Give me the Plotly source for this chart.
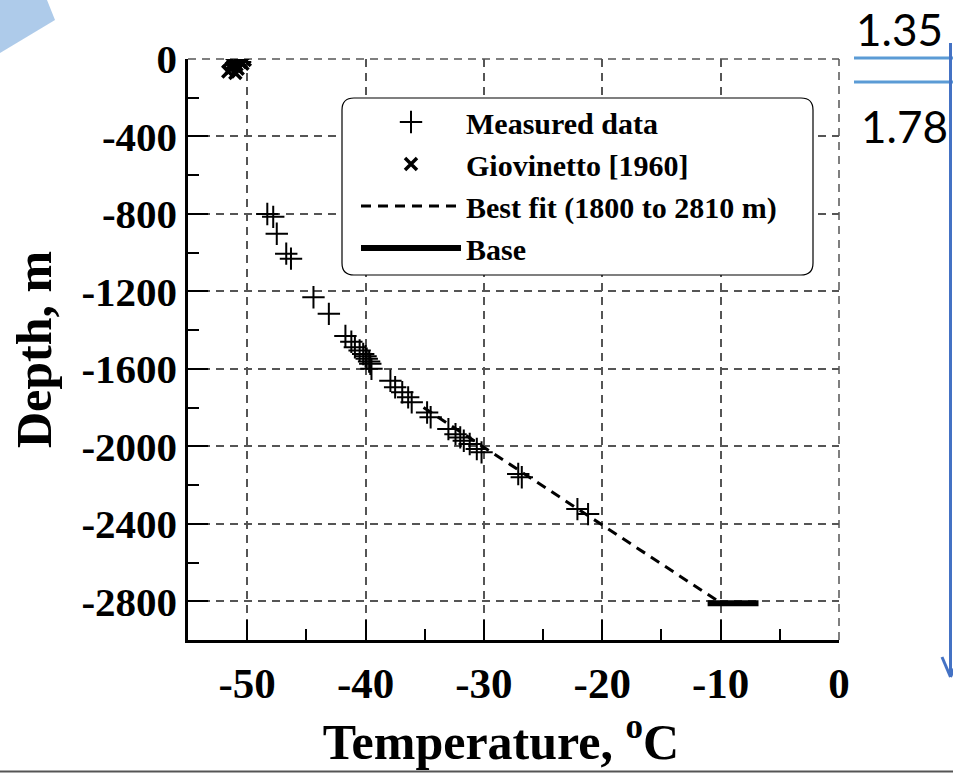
import plotly.graph_objects as go

# ---------------- data ----------------
measured_temp = [-48.3, -47.8, -47.5, -46.7, -46.3, -44.4, -43.1, -41.7, -41.2, -40.9, -40.5,
                 -40.2, -40.0, -39.9, -39.7, -39.6, -39.5, -37.9, -37.5, -36.9, -36.4, -36.1,
                 -34.8, -34.5, -33.0, -32.4, -32.0, -31.7, -31.2, -30.6, -30.2, -27.1, -26.8,
                 -22.1, -21.2, -51.0, -50.6]
measured_depth = [-800, -815, -902, -1005, -1031, -1230, -1316, -1430, -1460, -1488, -1505,
                  -1523, -1535, -1548, -1562, -1574, -1600, -1661, -1695, -1721, -1747, -1773,
                  -1825, -1850, -1911, -1937, -1954, -1971, -1988, -2014, -2031, -2143, -2160,
                  -2324, -2350, -30, -15]

giov_temp = [-51.5, -51.2, -50.9, -50.6, -51.3, -50.8, -51.6, -50.4, -51.0, -50.2]
giov_depth = [-10, -20, -30, -15, -45, -50, -65, -25, -72, -5]

fit_temp = [-35.1, -10.2]
fit_depth = [-1800, -2800]

base_temp = [-11.1, -6.8]
base_depth = [-2810, -2810]

x_ticks = [-50, -40, -30, -20, -10, 0]
y_ticks = [0, -400, -800, -1200, -1600, -2000, -2400, -2800]

# ---------------- geometry helpers ----------------
W, H = 953, 773
L, R, T, B = 188, 114, 59, 133
PW, PH = W - L - R, H - T - B


def px(x):
    return (x - L) / PW


def py(y):
    return 1 - (y - T) / PH


SERIF = "Liberation Serif"
GRID = "#555555"
GRIDDASH = "8px,6px"

fig = go.Figure()

fig.add_trace(go.Scatter(
    x=fit_temp, y=fit_depth, mode="lines", name="Best fit (1800 to 2810 m)",
    line=dict(color="black", width=3, dash="10px,7px"), legendrank=3))
fig.add_trace(go.Scatter(
    x=base_temp, y=base_depth, mode="lines", name="Base",
    line=dict(color="black", width=6), legendrank=4))
fig.add_trace(go.Scatter(
    x=measured_temp, y=measured_depth, mode="markers", name="Measured data",
    marker=dict(symbol="cross-thin", size=16, line=dict(color="black", width=2)),
    legendrank=1))
fig.add_trace(go.Scatter(
    x=giov_temp, y=giov_depth, mode="markers", name="Giovinetto [1960]",
    marker=dict(symbol="x-thin", size=12, line=dict(color="black", width=3.5)),
    legendrank=2))

axis_common = dict(
    showline=True, linecolor="black", linewidth=2.5,
    ticks="inside", tickwidth=2, tickcolor="black", ticklen=20,
    showgrid=True, gridcolor=GRID, gridwidth=1.5, griddash=GRIDDASH,
    zeroline=False,
)

fig.update_xaxes(
    range=[-55, 0], tickvals=x_ticks, ticktext=[str(v) for v in x_ticks],
    minor=dict(dtick=5, ticks="inside", ticklen=11, tickwidth=2, tickcolor="black", showgrid=False),
    tickfont=dict(family=SERIF, size=43, color="black", weight="bold"),
    title=dict(text="Temperature, <sup>o</sup>C&nbsp;&nbsp;", standoff=14,
               font=dict(family=SERIF, size=50, color="black", weight="bold")),
    ticklabelstandoff=4,
    **axis_common)
fig.update_yaxes(
    range=[-3000, 0], tickvals=y_ticks, ticktext=[str(v) for v in y_ticks],
    minor=dict(dtick=200, ticks="inside", ticklen=11, tickwidth=2, tickcolor="black", showgrid=False),
    tickfont=dict(family=SERIF, size=41, color="black", weight="bold"),
    title=dict(text="Depth, m", standoff=14,
               font=dict(family=SERIF, size=50, color="black", weight="bold")),
    ticklabelstandoff=0,
    **axis_common)

# dashed border lines at the top (depth 0) and right (0 degC) edges, matching the grid
shapes = [
    dict(type="line", xref="paper", yref="paper", x0=0, x1=1, y0=1, y1=1,
         line=dict(color=GRID, width=1.5, dash=GRIDDASH), layer="below"),
    dict(type="line", xref="paper", yref="paper", x0=1, x1=1, y0=0, y1=1,
         line=dict(color=GRID, width=1.5, dash=GRIDDASH), layer="below"),
]

# rounded legend box
x0, x1, y0, y1, r = 342, 813, 98, 275, 12
path = (f"M {px(x0 + r)} {py(y0)} L {px(x1 - r)} {py(y0)} "
        f"Q {px(x1)} {py(y0)} {px(x1)} {py(y0 + r)} L {px(x1)} {py(y1 - r)} "
        f"Q {px(x1)} {py(y1)} {px(x1 - r)} {py(y1)} L {px(x0 + r)} {py(y1)} "
        f"Q {px(x0)} {py(y1)} {px(x0)} {py(y1 - r)} L {px(x0)} {py(y0 + r)} "
        f"Q {px(x0)} {py(y0)} {px(x0 + r)} {py(y0)} Z")
shapes.append(dict(type="path", xref="paper", yref="paper", path=path,
                   fillcolor="white", line=dict(color="black", width=1.2), layer="above"))

# decorative elements outside chart
tri = f"M {px(0)} {py(0)} L {px(47)} {py(0)} L {px(55)} {py(20)} L {px(0)} {py(53)} Z"
shapes.append(dict(type="path", xref="paper", yref="paper", path=tri,
                   fillcolor="#aecbea", line=dict(width=0), layer="above"))
for yy in (58, 82):
    shapes.append(dict(type="line", xref="paper", yref="paper",
                       x0=px(854), x1=px(953), y0=py(yy), y1=py(yy),
                       line=dict(color="#5b9bd5", width=3)))
shapes.append(dict(type="line", xref="paper", yref="paper",
                   x0=px(950.5), x1=px(950.5), y0=py(43), y1=py(677),
                   line=dict(color="#4472c4", width=3)))
for xx in (942, 959):
    shapes.append(dict(type="line", xref="paper", yref="paper",
                       x0=px(xx), x1=px(950.5), y0=py(657), y1=py(677),
                       line=dict(color="#4472c4", width=3)))
shapes.append(dict(type="line", xref="paper", yref="paper",
                   x0=px(0), x1=px(953), y0=py(771.5), y1=py(771.5),
                   line=dict(color="#555555", width=2)))

annotations = [
    dict(text="1.35", x=px(899), y=py(29), xref="paper", yref="paper", showarrow=False,
         font=dict(family="Lato", size=44, color="black"), xanchor="center", yanchor="middle"),
    dict(text="1.78", x=px(904), y=py(126), xref="paper", yref="paper", showarrow=False,
         font=dict(family="Lato", size=44, color="black"), xanchor="center", yanchor="middle"),
]

fig.update_layout(
    width=W, height=H,
    margin=dict(l=L, r=R, t=T, b=B, autoexpand=False),
    paper_bgcolor="white", plot_bgcolor="white",
    shapes=shapes, annotations=annotations,
    showlegend=True,
    legend=dict(x=px(356), y=py(96), xanchor="left", yanchor="top",
                bgcolor="rgba(0,0,0,0)", borderwidth=0, itemwidth=100,
                tracegroupgap=0,
                font=dict(family=SERIF, size=30, color="black", weight="bold")),
)

fig.write_html("out.html")
